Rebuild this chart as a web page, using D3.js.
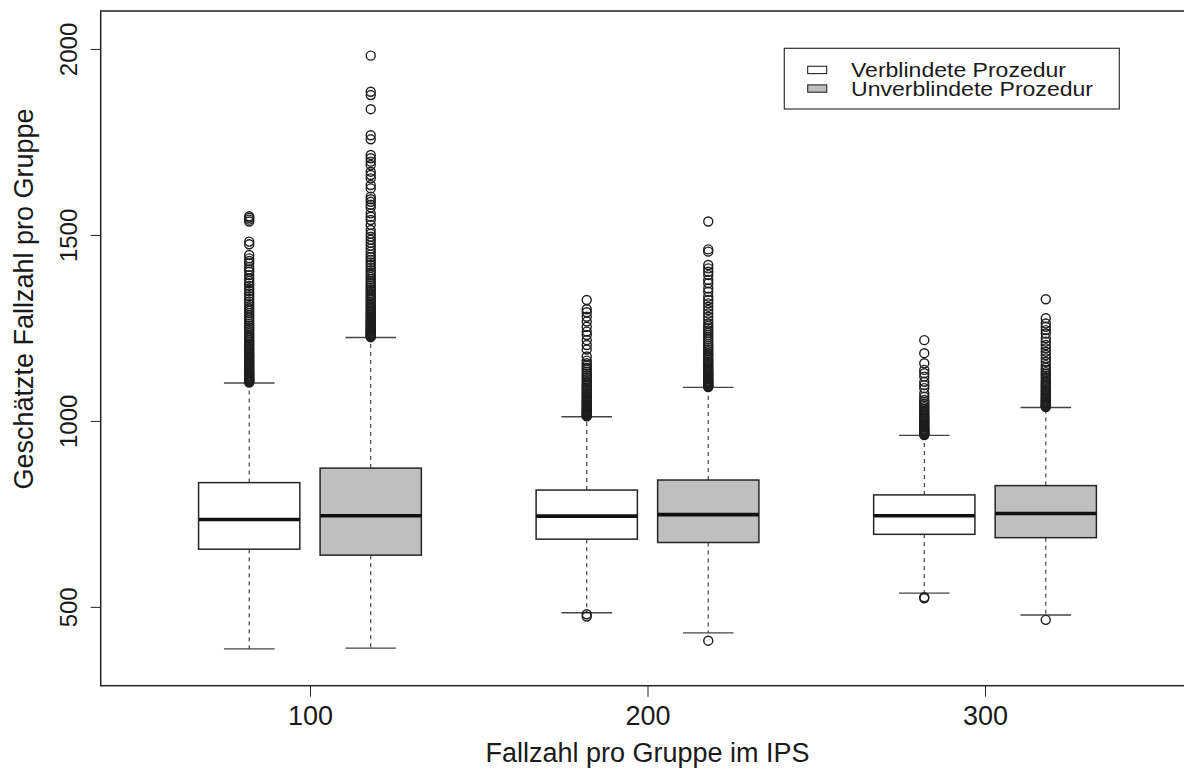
<!DOCTYPE html>
<html>
<head>
<meta charset="utf-8">
<script src="https://cdn.jsdelivr.net/npm/d3@7"></script>
<style>
  html, body { margin: 0; padding: 0; background: #ffffff; }
  svg { display: block; font-family: "Liberation Sans", Arial, Helvetica, sans-serif; }
</style>
</head>
<body>
<svg id="chart" width="1184" height="771"></svg>
<script>
// Group sizes in the IPS (x positions of the box pairs)
const groups = [100, 200, 300];
const procedures = ["Verblindete Prozedur", "Unverblindete Prozedur"];
const procedureFill = ["#ffffff", "#bfbfbf"];

// Five-number summaries, blinded procedure
const blindedLowerWhisker = [387, 484, 537];
const blindedQ1           = [655, 682, 695];
const blindedMedian       = [735, 744, 745];
const blindedQ3           = [834, 814, 801];
const blindedUpperWhisker = [1102, 1011, 961];

// Five-number summaries, unblinded procedure
const unblindedLowerWhisker = [389, 430, 478];
const unblindedQ1           = [639, 673, 686];
const unblindedMedian       = [745, 748, 751];
const unblindedQ3           = [873, 841, 826];
const unblindedUpperWhisker = [1224, 1090, 1036];

// Outliers beyond the whiskers
const blindedOutliers100 = [1550, 1546, 1541, 1536, 1482, 1475, 1446, 1437, 1430, 1424, 1414, 1407, 1401, 1392, 1383, 1376,
  1103, 1105, 1107, 1109, 1111, 1113, 1115, 1117, 1120, 1122, 1125, 1127, 1130, 1132, 1135, 1138, 1141, 1144, 1147, 1150,
  1153, 1156, 1159, 1162, 1166, 1169, 1173, 1176, 1180, 1184, 1188, 1192, 1196, 1200, 1204, 1208, 1213, 1217, 1222, 1226,
  1231, 1236, 1241, 1246, 1251, 1256, 1261, 1267, 1272, 1278, 1284, 1290, 1296, 1302, 1308, 1314, 1321, 1328, 1335, 1342,
  1349, 1356, 1363, 1370];
const unblindedOutliers100 = [1982, 1885, 1876, 1838, 1768, 1757, 1715, 1706, 1697, 1688, 1670, 1661, 1652, 1634, 1625,
  1603, 1596, 1589, 1581, 1574, 1558, 1549, 1540, 1527, 1513,
  1225, 1227, 1229, 1231, 1233, 1235, 1238, 1240, 1242, 1245, 1247, 1250, 1253, 1256, 1259, 1262, 1265, 1268, 1271, 1274,
  1278, 1281, 1285, 1288, 1292, 1296, 1300, 1304, 1308, 1312, 1316, 1320, 1325, 1329, 1334, 1339, 1344, 1349, 1354, 1359,
  1364, 1370, 1375, 1381, 1387, 1393, 1399, 1405, 1412, 1419, 1426, 1433, 1440, 1447, 1455, 1463, 1471, 1479, 1487, 1495,
  1503];
const blindedOutliers200 = [1325, 1300, 1292, 1280, 1267, 1253, 1240, 1231, 1217, 1204, 1192, 1173, 1162,
  1012, 1014, 1016, 1018, 1020, 1022, 1024, 1026, 1029, 1031, 1034, 1036, 1039, 1042, 1045, 1048, 1051, 1054, 1057, 1060,
  1064, 1067, 1071, 1074, 1078, 1082, 1086, 1090, 1094, 1098, 1103, 1107, 1112, 1117, 1122, 1127, 1132, 1138, 1143, 1149,
  1155,
  480, 474];
const unblindedOutliers200 = [1536, 1461, 1455, 1419, 1410, 1401, 1392, 1379, 1370, 1356, 1347, 1334, 1325, 1316, 1307,
  1298, 1289, 1280, 1271,
  1091, 1093, 1095, 1097, 1099, 1101, 1103, 1106, 1108, 1111, 1113, 1116, 1119, 1122, 1125, 1128, 1131, 1134, 1138, 1141,
  1145, 1148, 1152, 1156, 1160, 1164, 1168, 1173, 1177, 1182, 1187, 1192, 1197, 1202, 1207, 1213, 1219, 1225, 1231, 1237,
  1243, 1249, 1255, 1262,
  409];
const blindedOutliers300 = [1217, 1182, 1155, 1137, 1128, 1119, 1105, 1096, 1088, 1074, 1065,
  962, 964, 966, 968, 970, 972, 974, 977, 979, 982, 984, 987, 990, 993, 996, 999, 1002, 1005, 1009, 1012, 1016, 1020,
  1024, 1028, 1032, 1037, 1041, 1046, 1051, 1056,
  526, 523];
const unblindedOutliers300 = [1327, 1276, 1262, 1253, 1244, 1235, 1222, 1213, 1204, 1195, 1186, 1177, 1168, 1159,
  1037, 1039, 1041, 1043, 1045, 1047, 1050, 1052, 1055, 1057, 1060, 1063, 1066, 1069, 1072, 1075, 1079, 1082, 1086, 1090,
  1094, 1098, 1102, 1106, 1111, 1116, 1121, 1126, 1131, 1137, 1143, 1150,
  465];

const yTicks = [500, 1000, 1500, 2000];
const xTicks = [100, 200, 300];
const xTitle = "Fallzahl pro Gruppe im IPS";
const yTitle = "Geschätzte Fallzahl pro Gruppe";

// Build one record per box
const blindedOutliers = [blindedOutliers100, blindedOutliers200, blindedOutliers300];
const unblindedOutliers = [unblindedOutliers100, unblindedOutliers200, unblindedOutliers300];
const boxes = [];
groups.forEach((g, i) => {
  boxes.push({ group: g, proc: 0, lo: blindedLowerWhisker[i], q1: blindedQ1[i], med: blindedMedian[i],
    q3: blindedQ3[i], hi: blindedUpperWhisker[i], out: blindedOutliers[i] });
  boxes.push({ group: g, proc: 1, lo: unblindedLowerWhisker[i], q1: unblindedQ1[i], med: unblindedMedian[i],
    q3: unblindedQ3[i], hi: unblindedUpperWhisker[i], out: unblindedOutliers[i] });
});

const svg = d3.select("#chart");
const frame = { left: 100.7, right: 1194.3, top: 11, bottom: 685.7 };

const x = d3.scaleLinear().domain([38, 362]).range([frame.left, frame.right]);
const y = d3.scaleLinear().domain([288, 2102]).range([frame.bottom, frame.top]);

const offset = 18;     // distance of each box from its group centre (x units)
const halfWidth = 15;  // half box width (x units)
const capHalf = 7.5;   // half whisker-cap width (x units)
const cx = d => x(d.group + (d.proc === 0 ? -offset : offset));
const ink = "#262626";

const plot = svg.append("g");

// Whiskers (dashed)
plot.selectAll(".whisker-up").data(boxes).join("line")
  .attr("x1", cx).attr("x2", cx)
  .attr("y1", d => y(d.q3)).attr("y2", d => y(d.hi))
  .attr("stroke", "#333").attr("stroke-width", 1.1).attr("stroke-dasharray", "4,4");
plot.selectAll(".whisker-down").data(boxes).join("line")
  .attr("x1", cx).attr("x2", cx)
  .attr("y1", d => y(d.q1)).attr("y2", d => y(d.lo))
  .attr("stroke", "#333").attr("stroke-width", 1.1).attr("stroke-dasharray", "4,4");

// Whisker caps
["hi", "lo"].forEach(k => {
  plot.selectAll(".cap-" + k).data(boxes).join("line")
    .attr("x1", d => cx(d) - (x(capHalf) - x(0)))
    .attr("x2", d => cx(d) + (x(capHalf) - x(0)))
    .attr("y1", d => y(d[k])).attr("y2", d => y(d[k]))
    .attr("stroke", "#444").attr("stroke-width", 1.4);
});

// Boxes
plot.selectAll(".box").data(boxes).join("rect")
  .attr("x", d => cx(d) - (x(halfWidth) - x(0)))
  .attr("width", 2 * (x(halfWidth) - x(0)))
  .attr("y", d => y(d.q3))
  .attr("height", d => y(d.q1) - y(d.q3))
  .attr("fill", d => procedureFill[d.proc])
  .attr("stroke", ink).attr("stroke-width", 1.5);

// Medians
plot.selectAll(".median").data(boxes).join("line")
  .attr("x1", d => cx(d) - (x(halfWidth) - x(0)))
  .attr("x2", d => cx(d) + (x(halfWidth) - x(0)))
  .attr("y1", d => y(d.med)).attr("y2", d => y(d.med))
  .attr("stroke", "#111").attr("stroke-width", 3.6);

// Outliers
const outPts = boxes.flatMap(b => b.out.map(v => ({ b, v })));
plot.selectAll(".outlier").data(outPts).join("circle")
  .attr("cx", d => cx(d.b)).attr("cy", d => y(d.v))
  .attr("r", 4.5)
  .attr("fill", "none").attr("stroke", "#1e1e1e").attr("stroke-width", 1.4);

// Frame
svg.append("rect")
  .attr("x", frame.left).attr("y", frame.top)
  .attr("width", frame.right - frame.left).attr("height", frame.bottom - frame.top)
  .attr("fill", "none").attr("stroke", "#222").attr("stroke-width", 1.5);

// Y axis
const yAxis = svg.append("g")
  .attr("transform", `translate(${frame.left},0)`)
  .call(d3.axisLeft(y).tickValues(yTicks).tickSize(10).tickSizeOuter(0).tickFormat(d3.format("d")));
yAxis.select(".domain").remove();
yAxis.selectAll(".tick line").attr("stroke", "#222");
yAxis.selectAll(".tick text")
  .attr("x", null).attr("dy", null)
  .attr("transform", "rotate(-90)")
  .attr("y", -23.7)
  .attr("text-anchor", "middle")
  .attr("fill", "#1a1a1a")
  .style("font-size", "24px")
  .style("font-family", "Liberation Sans, Arial, sans-serif");

// X axis
const xAxis = svg.append("g")
  .attr("transform", `translate(0,${frame.bottom})`)
  .call(d3.axisBottom(x).tickValues(xTicks).tickSize(11).tickSizeOuter(0).tickFormat(d3.format("d")));
xAxis.select(".domain").remove();
xAxis.selectAll(".tick line").attr("stroke", "#222");
xAxis.selectAll(".tick text")
  .attr("y", 39.5).attr("dy", null)
  .attr("fill", "#1a1a1a")
  .style("font-size", "27px")
  .style("font-family", "Liberation Sans, Arial, sans-serif");

// Axis titles
svg.append("text")
  .attr("x", (frame.left + frame.right) / 2).attr("y", 762)
  .attr("text-anchor", "middle").attr("fill", "#1a1a1a")
  .style("font-size", "27px")
  .text(xTitle);
svg.append("text")
  .attr("transform", `translate(33,299) rotate(-90)`)
  .attr("text-anchor", "middle").attr("fill", "#1a1a1a")
  .style("font-size", "27px")
  .text(yTitle);

// Legend: frame, swatches, and a two-line label block
const rowGap = 18.6;
const legend = svg.append("g");
legend.append("rect")
  .attr("x", 784.3).attr("y", 48.3).attr("width", 335).attr("height", 60.7)
  .attr("fill", "#fff").attr("stroke", "#333").attr("stroke-width", 1.2);
legend.selectAll(".swatch").data(procedures).join("rect")
  .attr("x", 807.7).attr("y", (d, i) => 66.3 + i * rowGap).attr("width", 19).attr("height", 7.3)
  .attr("fill", (d, i) => procedureFill[i]).attr("stroke", ink).attr("stroke-width", 1.1);
const legendLabels = [215, 242];
legend.append("text")
  .attr("fill", "#1a1a1a")
  .style("font-size", "20px")
  .selectAll("tspan").data(procedures).join("tspan")
  .attr("x", 851).attr("y", (d, i) => 77.3 + i * rowGap)
  .attr("textLength", (d, i) => legendLabels[i])
  .attr("lengthAdjust", "spacingAndGlyphs")
  .text(d => d);
</script>
</body>
</html>
